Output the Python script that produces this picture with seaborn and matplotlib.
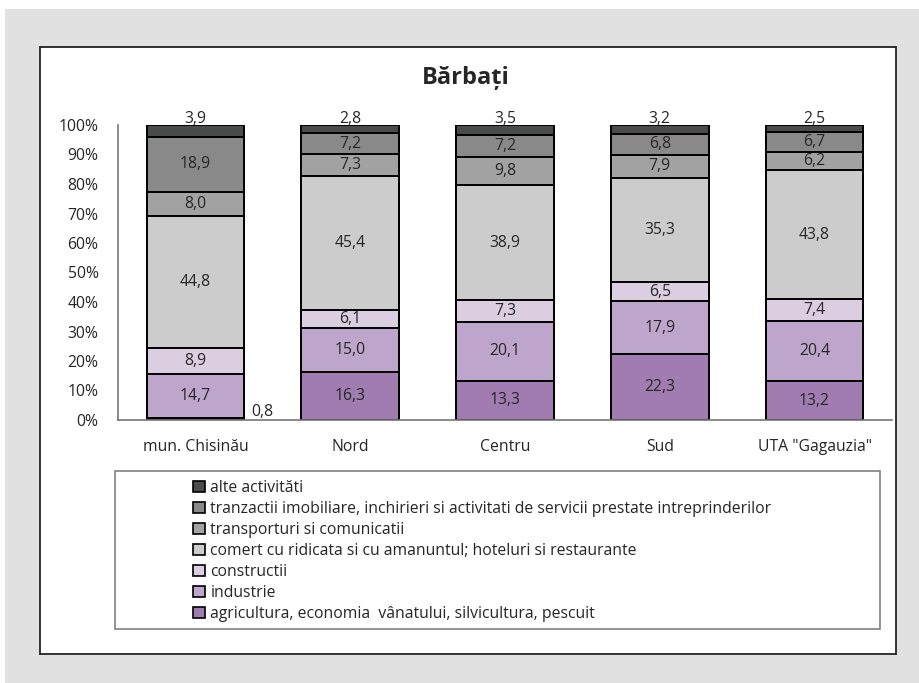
import numpy as np
import pandas as pd
import seaborn as sns
import matplotlib.pyplot as plt
from matplotlib.patches import Patch, Rectangle

# date (%)
regions = ['mun. Chisinău', 'Nord', 'Centru', 'Sud', 'UTA "Gagauzia"']
sectors = [
    'agricultura, economia  vânatului, silvicultura, pescuit',
    'industrie',
    'constructii',
    'comert cu ridicata si cu amanuntul; hoteluri si restaurante',
    'transporturi si comunicatii',
    'tranzactii imobiliare, inchirieri si activitati de servicii prestate intreprinderilor',
    'alte activităti',
]
agricultura = [0.8, 16.3, 13.3, 22.3, 13.2]
industrie = [14.7, 15.0, 20.1, 17.9, 20.4]
constructii = [8.9, 6.1, 7.3, 6.5, 7.4]
comert = [44.8, 45.4, 38.9, 35.3, 43.8]
transport = [8.0, 7.3, 9.8, 7.9, 6.2]
tranzactii = [18.9, 7.2, 7.2, 6.8, 6.7]
alte = [3.9, 2.8, 3.5, 3.2, 2.5]
colors = ['#a07cb0', '#bea5cb', '#dbcee1', '#cccccc', '#a2a2a2', '#898989', '#4a4c4b']

vals = np.array([agricultura, industrie, constructii, comert, transport, tranzactii, alte])
shares = vals / vals.sum(axis=0)
cum = np.cumsum(shares, axis=0)

sns.set_style('white')
plt.rcParams['font.family'] = ['Open Sans', 'DejaVu Sans']
fs = 11.3

fig = plt.figure(figsize=(9.19, 6.83), dpi=100)
fig.patch.set_facecolor('white')
W, H = 919, 683
# fundal gri si panou alb
fig.patches.append(Rectangle((5 / W, 0), 1, 1 - 9 / H, transform=fig.transFigure,
                             facecolor='#e0e1e0', edgecolor='none', zorder=-3))
fig.patches.append(Rectangle((40 / W, 1 - 654 / H), (896 - 40) / W, (654 - 47) / H,
                             transform=fig.transFigure, facecolor='white',
                             edgecolor='#222222', linewidth=1.3, zorder=-2))
# chenar legenda
fig.patches.append(Rectangle((115 / W, 1 - 629 / H), (880 - 115) / W, (629 - 471) / H,
                             transform=fig.transFigure, facecolor='white',
                             edgecolor='#808080', linewidth=1.2, zorder=-1))

ax = fig.add_axes([118 / W, 1 - 420 / H, (892 - 118) / W, (420 - 125) / H])
ax.set_facecolor('none')

# straturi cumulative, de sus in jos
for i in range(len(sectors) - 1, -1, -1):
    df = pd.DataFrame({'region': regions, 'val': cum[i]})
    sns.barplot(data=df, x='region', y='val', color=colors[i], width=0.63,
                edgecolor='black', linewidth=1.4, saturation=1, ax=ax, zorder=2)

# etichete
for j in range(len(regions)):
    for i in range(len(sectors)):
        txt = f'{vals[i, j]:.1f}'.replace('.', ',')
        if i == len(sectors) - 1:
            ax.text(j, 1.02, txt, ha='center', va='center', fontsize=fs)
        elif vals[i, j] < 2:
            ax.text(j + 0.43, 0.027, txt, ha='center', va='center', fontsize=fs)
        else:
            mid = cum[i, j] - shares[i, j] / 2
            ax.text(j, mid, txt, ha='center', va='center', fontsize=fs)

ax.set_xlim(-0.5, 4.5)
ax.set_ylim(0, 1)
ax.set_yticks(np.arange(0, 1.01, 0.1))
ax.set_yticklabels([f'{int(round(t * 100))}%' for t in np.arange(0, 1.01, 0.1)], fontsize=fs)
ax.set_xticks(np.arange(-0.5, 4.6, 1))
ax.set_xticklabels([])
ax.set_xticks(range(5), minor=True)
ax.set_xticklabels(regions, minor=True, fontsize=fs)
ax.tick_params(axis='x', which='minor', length=0, pad=14)
ax.tick_params(axis='x', which='major', direction='out', length=5, color='#555555', width=1)
ax.tick_params(axis='y', direction='out', length=5, color='#555555', width=1, pad=9)
ax.set_xlabel('')
ax.set_ylabel('')
for s in ['top', 'right']:
    ax.spines[s].set_visible(False)
for s in ['left', 'bottom']:
    ax.spines[s].set_color('#777777')
    ax.spines[s].set_linewidth(1.2)

fig.text(466 / W, 1 - 78 / H, 'Bărbați', ha='center', va='center',
         fontsize=17, fontweight='bold')

handles = [Patch(facecolor=colors[i], edgecolor='black', linewidth=1.2, label=sectors[i])
           for i in range(len(sectors) - 1, -1, -1)]
leg = fig.legend(handles=handles, loc='upper left',
                 bbox_to_anchor=(193 / W, 1 - 480 / H),
                 fontsize=fs, frameon=False,
                 handlelength=0.75, handleheight=0.75, handletextpad=0.35,
                 labelspacing=0.32, borderpad=0, borderaxespad=0)

fig.savefig('out.png', dpi=100)
